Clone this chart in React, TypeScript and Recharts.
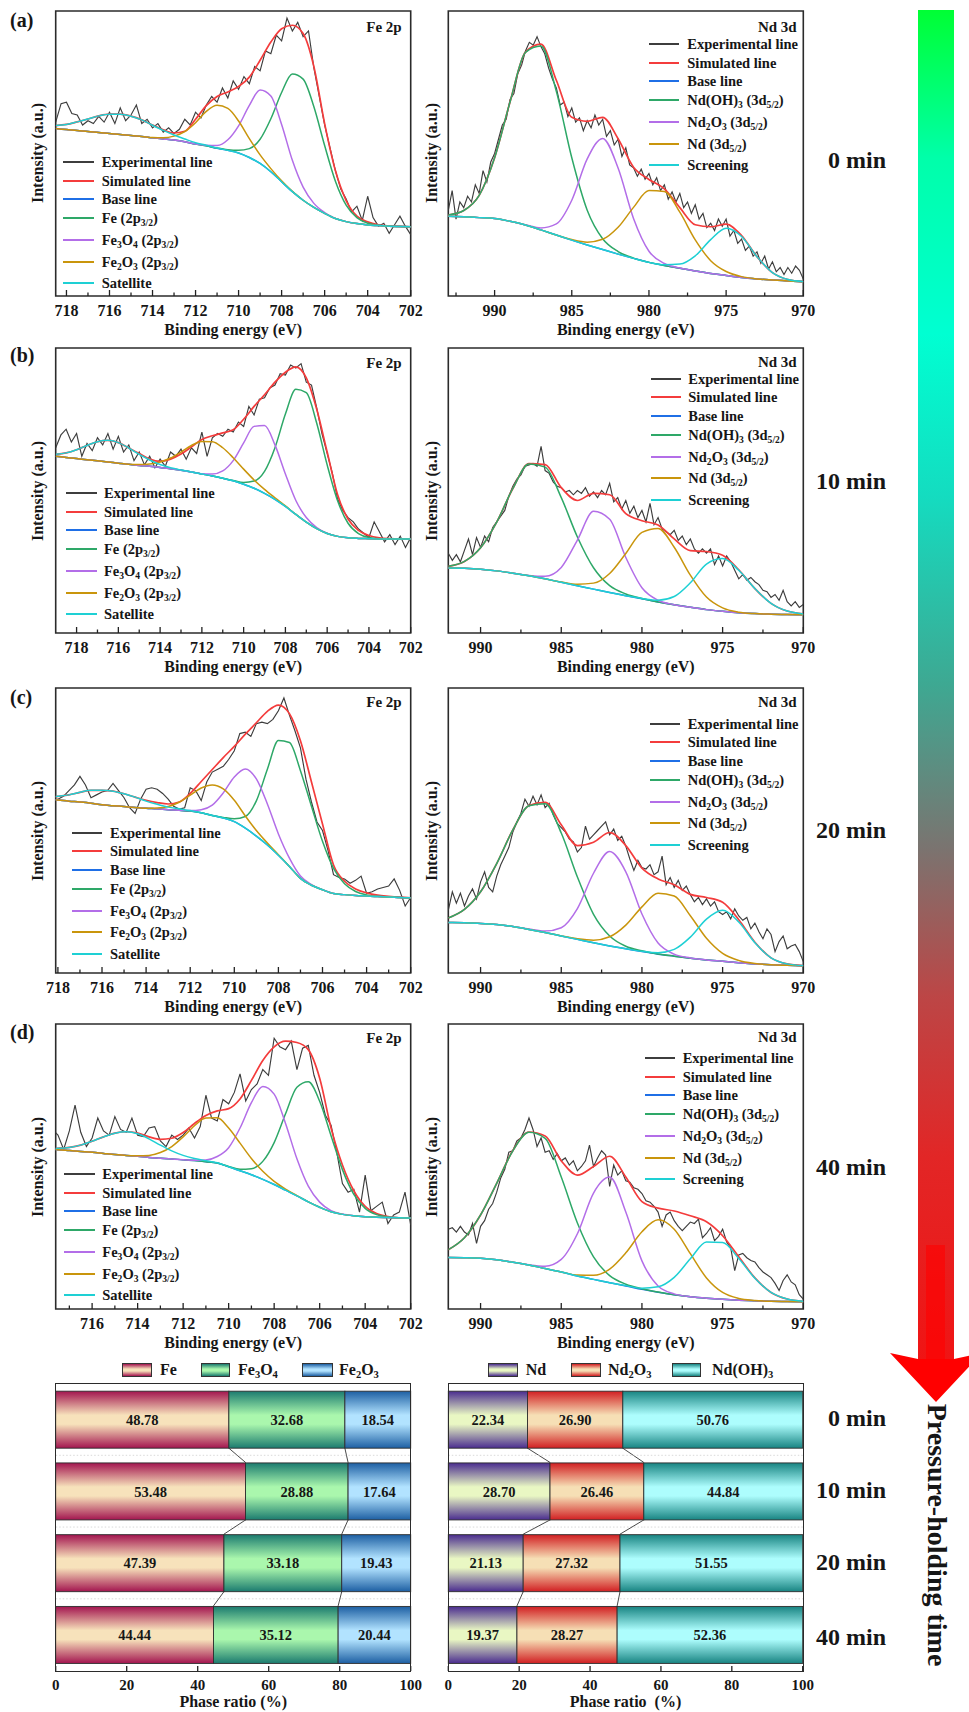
import React from 'react';
import { LineChart, Line, XAxis, YAxis, ReferenceArea, BarChart, Bar, LabelList } from 'recharts';

const SERIF = '"Liberation Serif", "Times New Roman", Times, serif';
const INK = '#161616';

// ---------- sampling grids (binding energy, eV) ----------
const feEnergyA = [718.5, 718, 717.5, 717, 716.5, 716, 715.5, 715, 714.5, 714, 713.5, 713, 712.5, 712, 711.5, 711, 710.5, 710, 709.5, 709, 708.5, 708, 707.5, 707, 706.5, 706, 705.5, 705, 704.5, 704, 703.5, 703, 702.5, 702];
const feEnergyB = [719, ...feEnergyA];
const feEnergyD = feEnergyA.slice(1);
const ndEnergyA = [993, 992, 991, 990, 989, 988, 987, 986, 985, 984, 983, 982, 981, 980, 979, 978, 977, 976, 975, 974, 973, 972, 971, 970];
const ndEnergy = ndEnergyA.slice(1);

const feExpEnergyA = [718.5, 718.25, 718, 717.75, 717.5, 717.25, 717, 716.75, 716.5, 716.25, 716, 715.75, 715.5, 715.25, 715, 714.75, 714.5, 714.25, 714, 713.75, 713.5, 713.25, 713, 712.75, 712.5, 712.25, 712, 711.75, 711.5, 711.25, 711, 710.75, 710.5, 710.25, 710, 709.75, 709.5, 709.25, 709, 708.75, 708.5, 708.25, 708, 707.75, 707.5, 707.25, 707, 706.75, 706.5, 706.25, 706, 705.75, 705.5, 705.25, 705, 704.75, 704.5, 704.25, 704, 703.75, 703.5, 703.25, 703, 702.75, 702.5, 702.25, 702];
const feExpEnergyB = [719, 718.75, ...feExpEnergyA];
const feExpEnergyD = feExpEnergyA.slice(2);
const ndExpEnergyA = [993, 992.75, 992.5, 992.25, 992, 991.75, 991.5, 991.25, 991, 990.75, 990.5, 990.25, 990, 989.75, 989.5, 989.25, 989, 988.75, 988.5, 988.25, 988, 987.75, 987.5, 987.25, 987, 986.75, 986.5, 986.25, 986, 985.75, 985.5, 985.25, 985, 984.75, 984.5, 984.25, 984, 983.75, 983.5, 983.25, 983, 982.75, 982.5, 982.25, 982, 981.75, 981.5, 981.25, 981, 980.75, 980.5, 980.25, 980, 979.75, 979.5, 979.25, 979, 978.75, 978.5, 978.25, 978, 977.75, 977.5, 977.25, 977, 976.75, 976.5, 976.25, 976, 975.75, 975.5, 975.25, 975, 974.75, 974.5, 974.25, 974, 973.75, 973.5, 973.25, 973, 972.75, 972.5, 972.25, 972, 971.75, 971.5, 971.25, 971, 970.75, 970.5, 970.25, 970];
const ndExpEnergy = ndExpEnergyA.slice(4);

const feTicks = [702, 703, 704, 705, 706, 707, 708, 709, 710, 711, 712, 713, 714, 715, 716, 717, 718];
const feTicksD = feTicks.slice(0, 16);
const ndTicksA = [970, 972.5, 975, 977.5, 980, 982.5, 985, 987.5, 990, 992.5];
const ndTicks = ndTicksA.slice(0, 9);

// ---------- (a) Fe 2p, intensity in % of panel height ----------
const feBgA = [58.8, 58.4, 58.1, 57.7, 57.4, 57.0, 56.7, 56.3, 56.0, 55.5, 55.1, 54.7, 54.1, 53.3, 52.7, 51.8, 51.1, 50.2, 48.6, 46.5, 43.6, 40.1, 36.6, 33.6, 31.1, 29.0, 27.2, 26.1, 25.4, 24.9, 24.7, 24.5, 24.4, 24.3];
const feSimA = [59.8, 60.2, 61.1, 62.1, 63.2, 63.8, 63.8, 63.1, 61.8, 60.0, 58.3, 57.2, 57.8, 62.0, 66.8, 70.0, 71.6, 73.5, 76.8, 82.7, 89.1, 93.8, 95.0, 92.1, 80.5, 60.5, 44.0, 33.5, 28.0, 26.0, 25.0, 24.6, 24.4, 24.3];
const feFeA = [58.8, 58.4, 58.1, 57.7, 57.4, 57.0, 56.7, 56.3, 56.0, 55.5, 55.1, 54.7, 54.1, 53.3, 52.7, 51.9, 51.3, 51.1, 51.7, 55.0, 62.2, 71.4, 77.9, 76.1, 66.4, 52.8, 40.3, 31.9, 27.5, 25.5, 24.85, 24.5, 24.4, 24.3];
const feFe3o4A = [58.8, 58.4, 58.1, 57.7, 57.4, 57.0, 56.7, 56.3, 56.0, 55.5, 55.1, 54.7, 54.1, 53.35, 52.9, 52.8, 54.8, 59.7, 66.9, 72.3, 70.2, 60.2, 47.6, 38.2, 32.5, 29.3, 27.25, 26.1, 25.4, 24.9, 24.7, 24.5, 24.4, 24.3];
const feFe2o3A = [58.8, 58.4, 58.1, 57.7, 57.4, 57.0, 56.7, 56.3, 56.0, 55.6, 55.5, 56.1, 57.7, 60.8, 64.8, 66.9, 65.8, 61.4, 55.2, 49.5, 44.7, 40.4, 36.7, 33.6, 31.1, 29.0, 27.2, 26.1, 25.4, 24.9, 24.7, 24.5, 24.4, 24.3];
const feSatA = [59.8, 60.2, 61.1, 62.1, 63.2, 63.8, 63.8, 63.1, 61.8, 59.9, 58.1, 56.5, 55.1, 53.8, 52.9, 51.9, 51.1, 50.2, 48.6, 46.5, 43.6, 40.1, 36.6, 33.6, 31.1, 29.0, 27.2, 26.1, 25.4, 24.9, 24.7, 24.5, 24.4, 24.3];
const feExpA = [61, 67.5, 68, 64, 63.5, 60, 61.5, 60.5, 63, 61, 64.5, 60.5, 66, 61.5, 63.5, 67, 60.5, 62, 59, 60.5, 57.5, 59, 57, 58.5, 62, 60, 64.5, 62.5, 67, 70, 68, 73, 69.5, 75.5, 72.5, 77, 74.5, 80.5, 79, 86, 85, 91.5, 89.5, 97.5, 93, 96, 91, 93, 80, 70, 60, 52, 44, 37.5, 34, 29.5, 31.5, 26.5, 35, 27.5, 24.5, 25.5, 22, 25, 28, 24.5, 21.5];

// ---------- (a) Nd 3d ----------
const ndBgA = [28.0, 27.8, 27.5, 27.2, 26.2, 24.9, 23.2, 21.4, 19.6, 17.9, 16.3, 14.7, 13.2, 11.8, 10.7, 9.7, 8.8, 7.9, 7.2, 6.5, 6.0, 5.6, 5.3, 5.0];
const ndSimA = [28.4, 30.0, 35.3, 48.5, 68.1, 85.6, 88.4, 75.7, 62.7, 61.3, 62.7, 55.2, 45.2, 40.9, 37.6, 31.0, 25.0, 24.3, 25.2, 21.2, 13.8, 8.2, 5.8, 5.1];
const ndOhA = [28.4, 30.0, 35.3, 48.5, 68.1, 85.5, 87.7, 71.8, 48.5, 30.1, 20.1, 15.6, 13.3, 11.8, 10.7, 9.7, 8.8, 7.9, 7.2, 6.5, 6.0, 5.6, 5.3, 5.0];
const ndOxA = [28.0, 27.8, 27.5, 27.2, 26.2, 25.0, 23.9, 25.3, 33.6, 48.1, 55.3, 44.9, 27.2, 15.7, 11.4, 9.8, 8.8, 7.9, 7.2, 6.5, 6.0, 5.6, 5.3, 5.0];
const ndMetA = [28.0, 27.8, 27.5, 27.2, 26.2, 24.9, 23.2, 21.4, 19.8, 18.9, 19.9, 24.1, 31.1, 37.0, 36.7, 29.4, 19.7, 12.4, 8.6, 6.8, 6.0, 5.6, 5.3, 5.0];
const ndScrA = [28.0, 27.8, 27.5, 27.2, 26.2, 24.9, 23.2, 21.4, 19.6, 17.9, 16.3, 14.7, 13.2, 11.8, 10.95, 11.2, 14.1, 19.8, 23.8, 20.9, 13.8, 8.2, 5.8, 5.1];
const ndExpA = [30, 37, 27, 33, 31, 35, 33, 39, 36, 44, 40, 47, 50, 55, 60, 62, 69, 71, 78, 81, 86, 89, 88, 91, 87.5, 85, 80, 76, 73, 67, 68, 63, 66, 61, 62.5, 58, 61.5, 59, 63.5, 60, 62, 56, 58, 53, 55, 49, 52, 46, 45, 42, 44.5, 41, 43, 39, 41.5, 37, 39, 34, 36.5, 33, 36, 31, 33, 29, 32, 27, 29, 24, 25.5, 23, 27, 24.5, 27, 21, 23, 18.5, 20, 16, 17.5, 14, 15.5, 11.5, 14, 9.5, 12, 8.5, 10, 7.5, 10, 8, 10.5, 9, 6];

// ---------- (b) Fe 2p ----------
const feBgB = [62.0, 61.6, 61.2, 60.8, 60.4, 60.0, 59.6, 59.2, 58.8, 58.5, 58.1, 57.6, 57.1, 56.5, 55.8, 55.1, 54.3, 53.4, 52.2, 50.8, 49.0, 46.9, 44.4, 41.6, 38.9, 36.6, 34.9, 33.9, 33.4, 33.2, 33.1, 33.0, 33.0, 33.0, 33.0];
const feSimB = [62.7, 63.2, 64.3, 65.8, 67.1, 67.6, 66.8, 64.9, 62.95, 61.0, 60.2, 61.0, 62.8, 65.3, 67.9, 69.2, 70.2, 71.3, 75.0, 79.5, 83.6, 88.0, 91.5, 93.4, 89.5, 78.5, 63.5, 48.5, 40.0, 36.0, 34.2, 33.4, 33.1, 33.0, 33.0];
const feFeB = [62.0, 61.6, 61.2, 60.8, 60.4, 60.0, 59.6, 59.2, 58.8, 58.5, 58.1, 57.6, 57.1, 56.5, 55.8, 55.1, 54.3, 53.5, 52.8, 53.3, 56.7, 65.0, 76.8, 85.5, 84.3, 73.6, 59.0, 46.4, 38.5, 34.9, 33.5, 33.1, 33.0, 33.0, 33.0];
const feFe3o4B = [62.0, 61.6, 61.2, 60.8, 60.4, 60.0, 59.6, 59.2, 58.8, 58.5, 58.1, 57.6, 57.1, 56.5, 55.9, 55.8, 56.9, 60.5, 66.7, 72.5, 72.8, 66.0, 55.8, 46.5, 40.5, 37.0, 35.0, 33.9, 33.4, 33.2, 33.1, 33.0, 33.0, 33.0, 33.0];
const feFe2o3B = [62.0, 61.6, 61.2, 60.8, 60.4, 60.0, 59.6, 59.2, 59.1, 59.3, 60.0, 61.4, 63.5, 65.8, 67.2, 67.1, 65.0, 61.5, 57.5, 53.7, 50.4, 47.45, 44.6, 41.6, 38.9, 36.6, 34.9, 33.9, 33.4, 33.2, 33.1, 33.0, 33.0, 33.0, 33.0];
const feSatB = [62.7, 63.2, 64.3, 65.8, 67.1, 67.6, 66.8, 64.9, 62.65, 60.7, 59.1, 58.0, 57.2, 56.5, 55.8, 55.1, 54.3, 53.4, 52.2, 50.8, 49.0, 46.9, 44.4, 41.6, 38.9, 36.6, 34.9, 33.9, 33.4, 33.2, 33.1, 33.0, 33.0, 33.0, 33.0];
const feExpB = [65, 69.5, 71.5, 67, 70, 62, 66.5, 64, 68.5, 66, 70, 64.5, 69, 63.5, 66, 60.5, 63.5, 59, 62, 58, 61, 58.5, 63.5, 62, 64.5, 61, 65, 63, 70.5, 62, 68.5, 70, 69, 71.5, 70.5, 74, 72.5, 79.5, 76.5, 82, 82.5, 86, 87, 91, 90.5, 94, 93, 94.5, 88, 87, 79, 70, 63, 56, 47, 43, 40.5, 39, 36.5, 35, 33.5, 39, 35.5, 32, 34.5, 31, 34, 30, 33.5];

// ---------- (b) Nd 3d ----------
const ndBgB = [22.8, 22.7, 22.4, 21.8, 21.0, 20.1, 19.0, 17.8, 16.6, 15.4, 14.2, 13.1, 12.0, 10.9, 9.9, 9.0, 8.2, 7.6, 7.1, 6.8, 6.6, 6.5, 6.4];
const ndSimB = [23.4, 25.1, 29.9, 38.9, 50.7, 59.4, 59.1, 51.0, 46.5, 49.0, 48.5, 41.9, 39.4, 37.9, 33.0, 28.9, 28.6, 27.3, 22.2, 15.6, 10.4, 7.7, 6.7];
const ndOhB = [23.4, 25.1, 29.9, 38.9, 50.7, 59.3, 58.2, 47.5, 33.7, 22.9, 16.6, 13.7, 12.1, 10.9, 9.9, 9.0, 8.2, 7.6, 7.1, 6.8, 6.6, 6.5, 6.4];
const ndOxB = [22.8, 22.7, 22.4, 21.8, 21.0, 20.2, 19.9, 23.0, 32.6, 42.7, 39.9, 26.5, 15.9, 11.5, 9.95, 9.0, 8.2, 7.6, 7.1, 6.8, 6.6, 6.5, 6.4];
const ndMetB = [22.8, 22.7, 22.4, 21.8, 21.0, 20.1, 19.0, 17.9, 17.1, 17.5, 20.9, 27.9, 35.3, 36.7, 30.1, 20.3, 12.6, 8.8, 7.3, 6.8, 6.6, 6.5, 6.4];
const ndScrB = [22.8, 22.7, 22.4, 21.8, 21.0, 20.1, 19.0, 17.8, 16.6, 15.4, 14.2, 13.1, 12.1, 11.5, 12.8, 17.6, 24.2, 26.1, 22.0, 15.6, 10.4, 7.7, 6.7];
const ndExpB = [28, 25.5, 27.5, 25, 29, 33, 27.5, 33.5, 30, 34, 32, 37, 39, 41, 43, 48, 51.5, 54, 55.5, 58.5, 59, 59.5, 58.5, 65.5, 57, 56, 53, 51.5, 51, 49.5, 50, 48.5, 50, 49, 51, 48, 49.5, 47.5, 50, 48.5, 52.5, 46, 47.5, 43.5, 46.5, 42, 44.5, 40.5, 43, 39, 45.5, 38, 40.5, 36.5, 35.5, 34.5, 36, 32.5, 34, 31, 33, 29.5, 28, 29.5, 28, 29.5, 24, 27, 23.5, 27, 25, 22, 19, 20.5, 18.5, 19.5, 18, 17, 15, 14.5, 12.5, 13.5, 11.5, 15, 11, 9.5, 11, 9, 10];

// ---------- (c) Fe 2p ----------
const feBgC = [61.0, 60.7, 60.3, 60.0, 59.6, 59.0, 58.7, 58.4, 58.1, 57.8, 57.6, 57.3, 57.1, 56.8, 56.2, 55.3, 54.4, 53.1, 50.8, 48.0, 44.9, 41.3, 37.4, 33.2, 30.8, 29.2, 27.9, 27.5, 27.2, 27.0, 26.8, 26.7, 26.5, 26.4];
const feSimC = [61.6, 62.0, 62.5, 63.4, 64.1, 64.1, 63.8, 62.9, 61.7, 60.6, 59.8, 59.3, 60.0, 63.0, 67.2, 71.4, 75.6, 79.5, 83.8, 87.8, 91.8, 94.0, 91.0, 81.5, 67.0, 52.3, 37.9, 32.2, 29.5, 28.1, 27.3, 26.9, 26.6, 26.4];
const feFeC = [61.0, 60.7, 60.3, 60.0, 59.6, 59.0, 58.7, 58.4, 58.1, 57.8, 57.6, 57.3, 57.1, 56.8, 56.2, 55.3, 54.6, 54.1, 54.9, 60.4, 71.5, 81.6, 80.9, 71.0, 58.5, 46.2, 36.7, 31.3, 28.6, 27.4, 26.9, 26.7, 26.5, 26.4];
const feFe3o4C = [61.0, 60.7, 60.3, 60.0, 59.6, 59.0, 58.7, 58.4, 58.1, 57.8, 57.6, 57.3, 57.1, 57.0, 57.3, 58.9, 63.2, 68.8, 71.6, 68.1, 59.3, 48.8, 40.3, 34.0, 31.0, 29.2, 27.9, 27.5, 27.2, 27.0, 26.8, 26.7, 26.5, 26.4];
const feFe2o3C = [61.0, 60.7, 60.3, 60.0, 59.6, 59.0, 58.7, 58.4, 58.1, 57.8, 57.9, 58.4, 59.9, 62.4, 64.9, 66.0, 64.6, 60.6, 55.1, 50.0, 45.6, 41.5, 37.4, 33.2, 30.8, 29.2, 27.9, 27.5, 27.2, 27.0, 26.8, 26.7, 26.5, 26.4];
const feSatC = [61.6, 62.0, 62.5, 63.4, 64.1, 64.1, 63.8, 62.9, 61.7, 60.3, 59.2, 58.2, 57.6, 57.0, 56.2, 55.3, 54.4, 53.1, 50.8, 48.0, 44.9, 41.3, 37.4, 33.2, 30.8, 29.2, 27.9, 27.5, 27.2, 27.0, 26.8, 26.7, 26.5, 26.4];
const feExpC = [60, 60.5, 61, 62, 64, 66, 69, 66, 61.5, 62.5, 63.5, 64, 66.5, 64, 61.5, 58, 56, 61, 64.5, 65, 64.5, 63, 61, 58.5, 57.5, 58, 65, 64, 60.5, 67, 70.5, 71.5, 72.5, 75, 78, 84, 84.5, 83, 87.5, 88, 87.5, 89, 92, 96.5, 90.5, 85, 79, 68, 60, 53, 50, 43, 34.5, 33.5, 33, 31.5, 32.5, 34, 28, 28.5, 29.5, 30, 30.5, 33, 29, 23.5, 26.5];

// ---------- (c) Nd 3d ----------
const ndBgC = [17.7, 17.6, 17.4, 17.0, 16.3, 15.3, 14.2, 13.0, 11.8, 10.6, 9.5, 8.5, 7.5, 6.6, 5.9, 5.2, 4.6, 4.1, 3.6, 3.2, 2.9, 2.7, 2.5];
const ndSimC = [19.3, 22.3, 28.5, 38.4, 50.2, 58.8, 59.9, 52.0, 44.7, 45.9, 49.3, 44.7, 36.8, 33.0, 31.0, 27.6, 26.5, 24.8, 18.7, 10.8, 5.3, 3.2, 2.6];
const ndOhC = [19.3, 22.3, 28.5, 38.4, 50.2, 58.7, 59.4, 49.1, 33.7, 20.6, 13.0, 9.4, 7.8, 6.65, 5.9, 5.2, 4.6, 4.1, 3.6, 3.2, 2.9, 2.7, 2.5];
const ndOxC = [17.7, 17.6, 17.4, 17.0, 16.3, 15.4, 14.7, 15.9, 22.6, 35.0, 42.6, 35.5, 20.7, 10.5, 6.6, 5.3, 4.6, 4.1, 3.6, 3.2, 2.9, 2.7, 2.5];
const ndMetC = [17.7, 17.6, 17.4, 17.0, 16.3, 15.3, 14.2, 13.0, 12.0, 11.5, 12.7, 16.8, 23.2, 28.0, 27.0, 20.1, 12.2, 6.9, 4.4, 3.35, 2.9, 2.7, 2.5];
const ndScrC = [17.7, 17.6, 17.4, 17.0, 16.3, 15.3, 14.2, 13.0, 11.8, 10.6, 9.5, 8.5, 7.6, 7.1, 8.3, 12.6, 18.9, 22.0, 17.9, 10.6, 5.3, 3.2, 2.6];
const ndExpC = [22, 28.5, 24.5, 28, 23.5, 27, 29.5, 26, 32, 35.5, 30, 28.5, 34, 38, 41, 44, 49.5, 53, 56, 61, 58.5, 62, 59, 62.5, 58, 59.5, 55.5, 52.5, 51, 49.5, 47, 46, 42.5, 44, 51.5, 47, 48.5, 50, 51.5, 53, 48.5, 50.5, 46.5, 48, 44.5, 40, 36, 39.5, 37, 36.5, 38, 34.5, 35.5, 41, 31, 33.5, 30, 32.5, 29, 30.5, 27.5, 25, 26.5, 24, 26, 23.5, 25, 21.5, 20.5, 21.5, 19, 22.5, 20, 18.5, 19.5, 15.5, 17.5, 14.5, 12, 15.5, 13.5, 7.5, 11, 13, 8.5, 9.5, 10, 7.5, 4];

// ---------- (d) Fe 2p ----------
const feBgD = [56.1, 55.9, 55.6, 55.3, 55.0, 54.6, 54.2, 53.9, 53.6, 53.2, 52.9, 52.6, 52.4, 52.1, 51.7, 51.2, 49.9, 48.5, 47.1, 45.5, 43.7, 41.7, 39.7, 37.6, 35.7, 34.1, 33.2, 32.7, 32.4, 32.2, 32.1, 32.0, 31.9];
const feSimD = [56.3, 56.4, 56.7, 57.5, 58.9, 60.4, 61.7, 62.2, 61.7, 60.4, 59.5, 59.9, 61.9, 65.1, 67.9, 69.5, 70.3, 73.7, 80.2, 87.2, 92.0, 94.0, 93.5, 91.0, 81.0, 63.5, 50.5, 41.5, 36.0, 33.5, 32.4, 32.0, 31.9];
const feFeD = [56.1, 55.9, 55.6, 55.3, 55.0, 54.6, 54.2, 53.9, 53.6, 53.2, 52.9, 52.6, 52.4, 52.1, 51.7, 51.2, 50.0, 49.0, 49.2, 51.8, 58.4, 68.5, 77.8, 79.7, 72.9, 60.8, 48.9, 40.2, 35.3, 33.1, 32.3, 32.0, 31.9];
const feFe3o4D = [56.1, 55.9, 55.6, 55.3, 55.0, 54.6, 54.2, 53.9, 53.6, 53.2, 52.9, 52.6, 52.4, 52.2, 52.3, 53.5, 56.6, 63.5, 72.4, 78.1, 75.4, 65.1, 52.7, 43.1, 37.5, 34.5, 33.3, 32.7, 32.4, 32.2, 32.1, 32.0, 31.9];
const feFe2o3D = [56.1, 55.9, 55.6, 55.3, 55.0, 54.6, 54.2, 53.9, 53.8, 53.9, 54.9, 57.0, 60.4, 64.3, 67.0, 67.1, 63.5, 58.2, 52.8, 48.3, 44.8, 42.1, 39.8, 37.6, 35.7, 34.1, 33.2, 32.7, 32.4, 32.2, 32.1, 32.0, 31.9];
const feSatD = [56.3, 56.4, 56.7, 57.5, 58.9, 60.4, 61.7, 62.2, 61.5, 59.7, 57.5, 55.5, 53.9, 52.8, 52.0, 51.3, 49.9, 48.5, 47.1, 45.5, 43.7, 41.7, 39.7, 37.6, 35.7, 34.1, 33.2, 32.7, 32.4, 32.2, 32.1, 32.0, 31.9];
const feExpD = [60, 63, 61, 56, 62.5, 71.5, 62, 57, 60, 67, 62.5, 61, 67.5, 63, 62, 67, 61, 60.5, 63.5, 64, 59, 57, 61, 59.5, 61, 63.5, 60, 64, 75, 67, 66, 73.5, 72, 76, 82.5, 73, 77, 79, 84, 82, 95, 92, 91, 94, 84, 91.5, 92.5, 82, 76, 68, 64.5, 55, 44, 41, 42, 34, 47, 34.5, 36, 37.5, 30, 33, 34, 41, 29.5];

// ---------- (d) Nd 3d ----------
const ndBgD = [18.1, 18.0, 17.8, 17.3, 16.4, 15.4, 14.2, 13.0, 11.6, 10.4, 9.2, 8.1, 6.9, 5.9, 5.0, 4.3, 3.8, 3.4, 3.1, 2.9, 2.7, 2.6, 2.5];
const ndSimD = [20.8, 25.0, 33.0, 44.1, 55.6, 62.1, 60.7, 52.0, 47.0, 50.0, 53.6, 46.3, 37.7, 35.4, 34.4, 32.7, 30.6, 25.7, 18.3, 10.9, 5.8, 3.5, 2.7];
const ndOhD = [20.8, 25.0, 33.0, 44.1, 55.5, 62.0, 59.9, 46.3, 30.2, 18.3, 11.7, 8.7, 7.1, 5.93, 5.0, 4.3, 3.8, 3.4, 3.1, 2.9, 2.7, 2.6, 2.5];
const ndOxD = [18.1, 18.0, 17.8, 17.3, 16.45, 15.5, 15.0, 17.4, 26.4, 40.7, 46.3, 34.0, 16.9, 8.1, 5.3, 4.3, 3.8, 3.4, 3.1, 2.9, 2.7, 2.6, 2.5];
const ndMetD = [18.1, 18.0, 17.8, 17.3, 16.4, 15.4, 14.2, 13.0, 11.9, 11.8, 14.0, 19.7, 27.1, 31.3, 28.0, 19.4, 10.9, 5.8, 3.7, 3.0, 2.7, 2.6, 2.5];
const ndScrD = [18.1, 18.0, 17.8, 17.3, 16.4, 15.4, 14.2, 13.0, 11.6, 10.4, 9.2, 8.2, 7.3, 7.8, 11.1, 17.6, 23.5, 23.3, 17.7, 10.8, 5.8, 3.5, 2.7];
const ndExpD = [28, 28.5, 27, 29, 27, 26, 30, 23, 29, 31, 35, 37, 41, 46, 49, 55, 55.5, 59, 60, 63, 67, 63, 57, 60, 55, 55.5, 52.5, 54.5, 52, 53, 50.5, 52, 48.5, 50, 52, 57.5, 50, 53, 55.5, 54, 43, 50.5, 47, 48.5, 45, 44.5, 42.5, 42, 40.5, 38, 37.5, 36, 34, 29, 33, 34, 31, 29, 27.5, 29, 30.5, 30, 31.5, 25, 26.5, 28.5, 24, 25.5, 28, 23.5, 21.5, 13.5, 19, 19.5, 18, 17, 16.5, 14.5, 13, 12, 11, 9, 6.5, 10, 12, 9.5, 8.5, 5, 3.5];

// ---------- phase ratios ----------
const timeLabels = ['0 min', '10 min', '20 min', '40 min'];
const feShare = [48.78, 53.48, 47.39, 44.44];
const fe3o4Share = [32.68, 28.88, 33.18, 35.12];
const fe2o3Share = [18.54, 17.64, 19.43, 20.44];
const ndShare = [22.34, 28.70, 21.13, 19.37];
const nd2o3Share = [26.90, 26.46, 27.32, 28.27];
const ndohShare = [50.76, 44.84, 51.55, 52.36];

const lineColors = ['#3d3d3d', '#f43c3c', '#1f6fe6', '#2ea868', '#b36ee8', '#c9950c', '#1ed0d4'];
const legendOffsets = [0, 18.4, 36.8, 56, 77.7, 99.4, 120.8];

const subStyle: React.CSSProperties = { fontSize: '0.66em', verticalAlign: '-0.3em', lineHeight: 0 };
const Sb = ({ c }: { c: string }) => <sub style={subStyle}>{c}</sub>;

const feNames = [
  'Experimental line', 'Simulated line', 'Base line',
  <>Fe (2p<Sb c="3/2" />)</>,
  <>Fe<Sb c="3" />O<Sb c="4" /> (2p<Sb c="3/2" />)</>,
  <>Fe<Sb c="2" />O<Sb c="3" /> (2p<Sb c="3/2" />)</>,
  'Satellite',
];
const ndNames = [
  'Experimental line', 'Simulated line', 'Base line',
  <>Nd(OH)<Sb c="3" /> (3d<Sb c="5/2" />)</>,
  <>Nd<Sb c="2" />O<Sb c="3" /> (3d<Sb c="5/2" />)</>,
  <>Nd (3d<Sb c="5/2" />)</>,
  'Screening',
];

const panels = [
  { id: 'a', fe: true, top: 10.7, domain: [702, 718.5], ticks: feTicks, energy: feEnergyA, bg: feBgA, sim: feSimA, p1: feFeA, p2: feFe3o4A, p3: feFe2o3A, sat: feSatA, expE: feExpEnergyA, exp: feExpA, leg: { x: 101.7, y: 162.3, l1: 63.3, l2: 94.3 }, titleY: 26.7, letterY: 20 },
  { id: 'b', fe: true, top: 348.3, domain: [702, 719], ticks: feTicks, energy: feEnergyB, bg: feBgB, sim: feSimB, p1: feFeB, p2: feFe3o4B, p3: feFe2o3B, sat: feSatB, expE: feExpEnergyB, exp: feExpB, leg: { x: 104, y: 493.3, l1: 65.7, l2: 96.7 }, titleY: 362.7, letterY: 355 },
  { id: 'c', fe: true, top: 688.3, domain: [702, 718.1], ticks: feTicks, energy: feEnergyA, bg: feBgC, sim: feSimC, p1: feFeC, p2: feFe3o4C, p3: feFe2o3C, sat: feSatC, expE: feExpEnergyA, exp: feExpC, leg: { x: 110, y: 833, l1: 71.7, l2: 101.7 }, titleY: 701.7, letterY: 696.7 },
  { id: 'd', fe: true, top: 1024.3, domain: [702, 717.6], ticks: feTicksD, energy: feEnergyD, bg: feBgD, sim: feSimD, p1: feFeD, p2: feFe3o4D, p3: feFe2o3D, sat: feSatD, expE: feExpEnergyD, exp: feExpD, leg: { x: 102.3, y: 1174.3, l1: 64.3, l2: 95 }, titleY: 1037.7, letterY: 1031.7 },
  { id: 'na', fe: false, top: 10.7, domain: [970, 993], ticks: ndTicksA, energy: ndEnergyA, bg: ndBgA, sim: ndSimA, p1: ndOhA, p2: ndOxA, p3: ndMetA, sat: ndScrA, expE: ndExpEnergyA, exp: ndExpA, leg: { x: 687.3, y: 44.3, l1: 649.3, l2: 679.3 }, titleY: 26.7 },
  { id: 'nb', fe: false, top: 348.3, domain: [970, 992], ticks: ndTicks, energy: ndEnergy, bg: ndBgB, sim: ndSimB, p1: ndOhB, p2: ndOxB, p3: ndMetB, sat: ndScrB, expE: ndExpEnergy, exp: ndExpB, leg: { x: 688.3, y: 379, l1: 650.7, l2: 680.7 }, titleY: 362.3 },
  { id: 'nc', fe: false, top: 688.3, domain: [970, 992], ticks: ndTicks, energy: ndEnergy, bg: ndBgC, sim: ndSimC, p1: ndOhC, p2: ndOxC, p3: ndMetC, sat: ndScrC, expE: ndExpEnergy, exp: ndExpC, leg: { x: 687.7, y: 724, l1: 650, l2: 680 }, titleY: 701.7 },
  { id: 'nd', fe: false, top: 1024.3, domain: [970, 992], ticks: ndTicks, energy: ndEnergy, bg: ndBgD, sim: ndSimD, p1: ndOhD, p2: ndOxD, p3: ndMetD, sat: ndScrD, expE: ndExpEnergy, exp: ndExpD, leg: { x: 682.7, y: 1058.3, l1: 645, l2: 675 }, titleY: 1037.3 },
];

const BOX_H = 285;

const xpsTick = (isMajor: (v: number) => boolean) => (props: any) => {
  const { x, y, payload } = props;
  const v = payload.value;
  const m = isMajor(v);
  return (
    <g>
      <line x1={x} x2={x} y1={y} y2={y - (m ? 6 : 3.5)} stroke="#222" strokeWidth={1.3} />
      {m && (
        <text x={x} y={y + 19.5} textAnchor="middle" fontFamily={SERIF} fontWeight="bold" fontSize={16} fill={INK}>
          {v}
        </text>
      )}
    </g>
  );
};
const feTick = xpsTick((v) => v % 2 === 0);
const ndTick = xpsTick((v) => v % 5 === 0);

const abs = (s: React.CSSProperties): React.CSSProperties => ({ position: 'absolute', ...s });

function XpsPanel({ p }: { p: any }) {
  const chartLeft = p.fe ? 0 : 400;
  const boxLeft = p.fe ? 55.7 : 448.3;
  const boxRight = p.fe ? 410.7 : 803.3;
  const W = 430;
  const at = new Map<number, number>(p.energy.map((e: number, i: number) => [e, i]));
  const rows = p.expE.map((e: number, i: number) => {
    const k = at.get(e);
    const r: any = { e, exp: p.exp[i] };
    if (k !== undefined) {
      r.bg = p.bg[k];
      r.sim = p.sim[k];
      r.p1 = p.p1[k];
      r.p2 = p.p2[k];
      r.p3 = p.p3[k];
      r.sat = p.sat[k];
    }
    return r;
  });
  const names = p.fe ? feNames : ndNames;
  const comp = ['sim', 'bg', 'p1', 'p2', 'p3', 'sat'];
  const centerX = (boxLeft + boxRight) / 2;
  const bottom = p.top + BOX_H;
  return (
    <>
      <div style={abs({ left: chartLeft, top: p.top - 10 })}>
        <LineChart width={W} height={BOX_H + 56} data={rows} margin={{ top: 10, right: chartLeft + W - boxRight, left: boxLeft - chartLeft, bottom: 0 }}>
          <XAxis dataKey="e" type="number" domain={p.domain} reversed allowDataOverflow ticks={p.ticks} interval={0} tickLine={false} axisLine={false} tickSize={0} tickMargin={0} height={46} tick={p.fe ? feTick : ndTick} />
          <YAxis type="number" domain={[0, 100]} hide allowDataOverflow />
          <Line dataKey="exp" type="linear" stroke={lineColors[0]} strokeWidth={1.15} dot={false} isAnimationActive={false} />
          {comp.map((k, i) => (
            <Line key={k} dataKey={k} type="monotone" connectNulls stroke={lineColors[i + 1]} strokeWidth={i === 0 ? 1.7 : 1.5} dot={false} isAnimationActive={false} />
          ))}
          <ReferenceArea x1={p.domain[0]} x2={p.domain[1]} y1={0} y2={100} fill="none" stroke="#2b2b2b" strokeWidth={1.6} ifOverflow="visible" />
        </LineChart>
      </div>
      {names.map((n: any, i: number) => (
        <React.Fragment key={i}>
          <div style={abs({ left: Math.round(p.leg.l1), top: Math.round(p.leg.y + legendOffsets[i]) - 1, width: Math.round(p.leg.l2 - p.leg.l1), height: 2, background: lineColors[i] })} />
          <div style={abs({ left: p.leg.x, top: p.leg.y + legendOffsets[i] - 10, height: 20, lineHeight: '20px', fontSize: 14.5, fontWeight: 'bold', whiteSpace: 'nowrap', color: INK })}>{n}</div>
        </React.Fragment>
      ))}
      <div style={abs({ right: 969 - (p.fe ? 401.7 : 796.7), top: p.titleY - 10, lineHeight: '20px', fontSize: 15, fontWeight: 'bold', whiteSpace: 'nowrap', color: INK })}>
        {p.fe ? 'Fe 2p' : 'Nd 3d'}
      </div>
      <div style={abs({ left: p.fe ? 38 : 432, top: p.top + 142.5, transform: 'translate(-50%, -50%) rotate(-90deg)', fontSize: 16, fontWeight: 'bold', whiteSpace: 'nowrap', lineHeight: '20px', color: INK })}>
        Intensity (a.u.)
      </div>
      <div style={abs({ left: centerX, top: bottom + 34, transform: 'translate(-50%, -50%)', fontSize: 16, fontWeight: 'bold', whiteSpace: 'nowrap', lineHeight: '20px', color: INK })}>
        Binding energy (eV)
      </div>
      {p.fe && (
        <div style={abs({ left: 10, top: p.letterY - 12, fontSize: 20, fontWeight: 'bold', lineHeight: '24px', color: INK })}>({p.id})</div>
      )}
    </>
  );
}

const barTick = (props: any) => {
  const { x, y, payload } = props;
  return (
    <g>
      <line x1={x} x2={x} y1={y} y2={y - 5} stroke="#222" strokeWidth={1.3} />
      <text x={x} y={y + 19} textAnchor="middle" fontFamily={SERIF} fontWeight="bold" fontSize={15} fill={INK}>
        {payload.value}
      </text>
    </g>
  );
};

function makeSeg(rowsData: any[], keys: string[], k: number) {
  return (sp: any) => {
    const { x, y, width, height, fill } = sp;
    let idx = sp.index;
    if (idx == null || rowsData[idx] == null) idx = rowsData.findIndex((r) => r.time === sp.payload?.time);
    const row = rowsData[idx];
    const unit = width / row[keys[k]];
    let cum = 0;
    for (let j = 0; j <= k; j++) cum += row[keys[j]];
    const x0 = x + width - cum * unit;
    const next = rowsData[idx + 1];
    let link = null;
    if (next && k < keys.length - 1) {
      let nc = 0;
      for (let j = 0; j <= k; j++) nc += next[keys[j]];
      link = <line x1={x + width} y1={y + height} x2={x0 + nc * unit} y2={y + height * 1.25} stroke="#4a4a4a" strokeWidth={1} />;
    }
    const dots = next ? <line x1={x} x2={x + width} y1={y + height * 1.125} y2={y + height * 1.125} stroke="#cfcfcf" strokeWidth={0.8} strokeDasharray="1.5 2" /> : null;
    return (
      <g>
        <rect x={x} y={y} width={width} height={height} fill={fill} stroke="#2e2e2e" strokeWidth={0.9} />
        {dots}
        {link}
      </g>
    );
  };
}

function RatioChart({ left, boxLeft, boxRight, series, title }: any) {
  const keys = series.map((s: any) => s.key);
  const rows = timeLabels.map((t, i) => {
    const r: any = { time: t };
    series.forEach((s: any) => { r[s.key] = s.values[i]; });
    return r;
  });
  const W = 430;
  return (
    <>
      <div style={abs({ left, top: 1374 })}>
        <BarChart width={W} height={338} data={rows} layout="vertical" barCategoryGap="10%" margin={{ top: 10, right: left + W - boxRight, left: boxLeft - left, bottom: 0 }}>
          <defs>
            {series.map((s: any) => (
              <linearGradient key={s.key} id={'g_' + s.key} x1="0" y1="0" x2="0" y2="1">
                <stop offset="0" stopColor={s.dark} />
                <stop offset="0.42" stopColor={s.light} />
                <stop offset="0.58" stopColor={s.light} />
                <stop offset="1" stopColor={s.dark} />
              </linearGradient>
            ))}
          </defs>
          <XAxis type="number" domain={[0, 100]} ticks={[0, 20, 40, 60, 80, 100]} interval={0} tickLine={false} axisLine={false} tickSize={0} tickMargin={0} height={41} tick={barTick} />
          <YAxis type="category" dataKey="time" hide />
          {series.map((s: any, k: number) => (
            <Bar key={s.key} dataKey={s.key} stackId="ratio" fill={'url(#g_' + s.key + ')'} isAnimationActive={false} shape={makeSeg(rows, keys, k)}>
              <LabelList dataKey={s.key} position="center" formatter={(v: any) => Number(v).toFixed(2)} fill={INK} fontSize={14.5} fontWeight="bold" fontFamily={SERIF} />
            </Bar>
          ))}
        </BarChart>
      </div>
      <div style={abs({ left: boxLeft - 0.8, top: 1384 - 0.8, width: boxRight - boxLeft + 1.6, height: 287 + 1.6, border: '1.6px solid #2b2b2b', boxSizing: 'border-box' })} />
      {series.map((s: any) => (
        <React.Fragment key={s.key}>
          <div style={abs({ left: s.sw, top: 1363, width: s.swW, height: 14, border: '1px solid #333', boxSizing: 'border-box', background: `linear-gradient(to bottom, ${s.dark}, ${s.light} 42%, ${s.light} 58%, ${s.dark})` })} />
          <div style={abs({ left: s.tx, top: 1360, lineHeight: '20px', fontSize: 16, fontWeight: 'bold', whiteSpace: 'nowrap', color: INK })}>{s.label}</div>
        </React.Fragment>
      ))}
      <div style={abs({ left: (boxLeft + boxRight) / 2, top: 1702, transform: 'translate(-50%, -50%)', fontSize: 16, fontWeight: 'bold', whiteSpace: 'pre', lineHeight: '20px', color: INK })}>
        {title}
      </div>
    </>
  );
}

const feSeries = [
  { key: 'fe', values: feShare, dark: '#a3154f', light: '#f7e2bb', label: 'Fe', sw: 122, swW: 30, tx: 160 },
  { key: 'fe3o4', values: fe3o4Share, dark: '#1b7b6f', light: '#aaf7ad', label: <>Fe<Sb c="3" />O<Sb c="4" /></>, sw: 200.7, swW: 29.5, tx: 238 },
  { key: 'fe2o3', values: fe2o3Share, dark: '#1d5fa3', light: '#b2e3ff', label: <>Fe<Sb c="2" />O<Sb c="3" /></>, sw: 302, swW: 31, tx: 339 },
];
const ndSeries = [
  { key: 'nd', values: ndShare, dark: '#4a2c8f', light: '#e9f7c3', label: 'Nd', sw: 488.3, swW: 29.5, tx: 525.7 },
  { key: 'nd2o3', values: nd2o3Share, dark: '#d11f22', light: '#f6dfb5', label: <>Nd<Sb c="2" />O<Sb c="3" /></>, sw: 571, swW: 29.5, tx: 608 },
  { key: 'ndoh', values: ndohShare, dark: '#188482', light: '#adfdfd', label: <>Nd(OH)<Sb c="3" /></>, sw: 671.7, swW: 29.5, tx: 712 },
];

const topTimeY = [160, 481, 830, 1167];
const barTimeY = [1418, 1490, 1562, 1637];

function Arrow() {
  return (
    <svg width={969} height={1712} style={abs({ left: 0, top: 0, pointerEvents: 'none' })}>
      <defs>
        <linearGradient id="timeGrad" x1="0" y1="0" x2="0" y2="1">
          <stop offset="0" stopColor="#00ff34" />
          <stop offset="0.11" stopColor="#00ffaa" />
          <stop offset="0.24" stopColor="#00ffd2" />
          <stop offset="0.36" stopColor="#14dcc0" />
          <stop offset="0.5" stopColor="#3ea892" />
          <stop offset="0.62" stopColor="#7a7470" />
          <stop offset="0.73" stopColor="#bc4646" />
          <stop offset="0.85" stopColor="#e22626" />
          <stop offset="1" stopColor="#f01414" />
        </linearGradient>
      </defs>
      <rect x={918} y={10} width={36} height={1350} fill="url(#timeGrad)" />
      <rect x={926} y={1245} width={19} height={115} fill="#ff0000" opacity={0.6} />
      <polygon points="890,1353 918,1359 954,1359 982,1353 936,1402" fill="#ff0000" />
    </svg>
  );
}

export default function App() {
  return (
    <div style={{ position: 'absolute', left: 0, top: 0, width: 969, height: 1712, background: '#ffffff', fontFamily: SERIF, color: INK, overflow: 'hidden' }}>
      {panels.map((p) => (
        <XpsPanel key={p.id} p={p} />
      ))}
      <RatioChart left={0} boxLeft={55.7} boxRight={410.7} series={feSeries} title="Phase ratio (%)" />
      <RatioChart left={400} boxLeft={448.3} boxRight={802.7} series={ndSeries} title="Phase ratio  (%)" />
      <Arrow />
      {timeLabels.map((t, i) => (
        <React.Fragment key={t}>
          <div style={abs({ right: 969 - 886, top: topTimeY[i] - 14, lineHeight: '28px', fontSize: 24, fontWeight: 'bold', whiteSpace: 'nowrap' })}>{t}</div>
          <div style={abs({ right: 969 - 886, top: barTimeY[i] - 14, lineHeight: '28px', fontSize: 24, fontWeight: 'bold', whiteSpace: 'nowrap' })}>{t}</div>
        </React.Fragment>
      ))}
      <div style={abs({ left: 937, top: 1535, transform: 'translate(-50%, -50%) rotate(90deg)', fontSize: 28, fontWeight: 'bold', whiteSpace: 'nowrap', lineHeight: '32px' })}>
        Pressure-holding time
      </div>
    </div>
  );
}
